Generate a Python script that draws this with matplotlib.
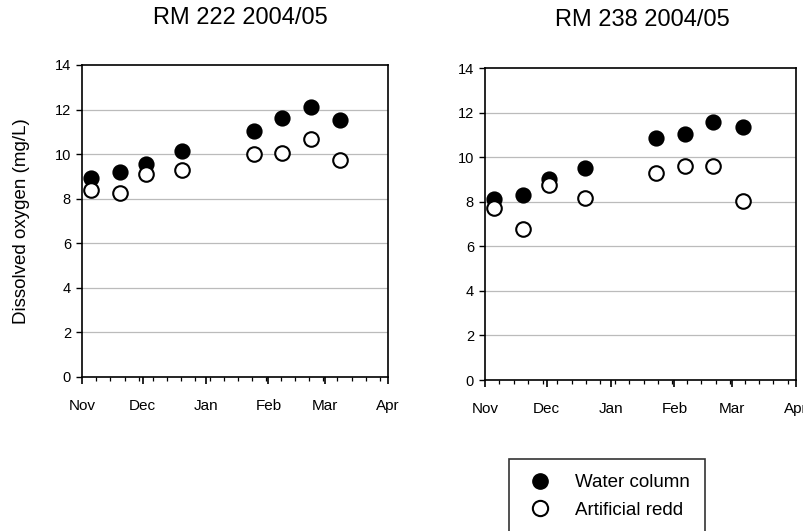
import matplotlib
matplotlib.use("Agg")
import matplotlib.pyplot as plt
from matplotlib.lines import Line2D
import numpy as np

plt.rcParams['font.family'] = ['Liberation Sans', 'DejaVu Sans']

# Days since Nov 1 2004
month_labels = ["Nov", "Dec", "Jan", "Feb", "Mar", "Apr"]
month_days = [0, 30, 61, 92, 120, 151]

rm222_days = [4.3, 18.7, 31.7, 49.4, 84.7, 98.9, 113.2, 127.5]
rm222_water = [8.92, 9.22, 9.56, 10.15, 11.04, 11.61, 12.10, 11.53]
rm222_redd = [8.37, 8.25, 9.11, 9.29, 10.0, 10.04, 10.70, 9.74]

rm238_days = [4.5, 18.3, 31.2, 48.5, 83.0, 97.1, 110.8, 125.4]
rm238_water = [8.11, 8.28, 9.01, 9.51, 10.88, 11.05, 11.57, 11.35]
rm238_redd = [7.74, 6.77, 8.73, 8.16, 9.31, 9.61, 9.61, 8.01]

W, H = 804, 531
fig = plt.figure(figsize=(W / 100, H / 100), dpi=100)

def make_ax(l, r, t, b):
    return fig.add_axes([l / W, 1 - b / H, (r - l) / W, (b - t) / H])

ax1 = make_ax(82, 388, 65, 377)
ax2 = make_ax(485, 796, 68, 380)

panels = [
    (ax1, "RM 222 2004/05", rm222_days, rm222_water, rm222_redd, 240, 18),
    (ax2, "RM 238 2004/05", rm238_days, rm238_water, rm238_redd, 642, 20),
]

for ax, title, d, w, r, tx, ty in panels:
    for yv in [2, 4, 6, 8, 10, 12]:
        ax.axhline(yv, color="#bbbbbb", lw=0.9, zorder=0)
    ax.scatter(d, w, s=110, c="black", edgecolors="black", linewidths=1.2, zorder=3)
    ax.scatter(d, r, s=110, c="white", edgecolors="black", linewidths=1.5, zorder=4)
    ax.set_xlim(0, 151)
    ax.set_ylim(0, 14)
    ax.set_xticks(month_days)
    ax.set_xticklabels(month_labels, fontsize=11)
    ax.set_xticks(np.arange(0, 152, 7), minor=True)
    ax.set_yticks(np.arange(0, 15, 2))
    ax.tick_params(axis="y", labelsize=10.5, length=4, width=1, direction="out", pad=4)
    ax.tick_params(axis="x", which="major", length=5, width=1.2, direction="out", pad=11)
    ax.tick_params(axis="x", which="minor", length=3, width=0.9, direction="out")
    for s in ax.spines.values():
        s.set_linewidth(1.2)
    fig.text(tx / W, 1 - ty / H, title, fontsize=17, ha="center", va="center")

ax1.set_ylabel("Dissolved oxygen (mg/L)", fontsize=13.5, labelpad=18)

handles = [
    Line2D([], [], ls="none", marker="o", ms=11, mfc="black", mec="black"),
    Line2D([], [], ls="none", marker="o", ms=11, mfc="white", mec="black", mew=1.5),
]
leg = fig.legend(handles, ["Water column", "Artificial redd"],
                 loc="upper left", bbox_to_anchor=(509 / W, 1 - 459 / H),
                 frameon=True, fancybox=False, fontsize=13.5, handletextpad=1.0,
                 borderpad=0.8, labelspacing=0.55, handlelength=1.7,
                 borderaxespad=0)
leg.get_frame().set_edgecolor("black")
leg.get_frame().set_linewidth(1.2)

fig.savefig("out.png", dpi=100)
